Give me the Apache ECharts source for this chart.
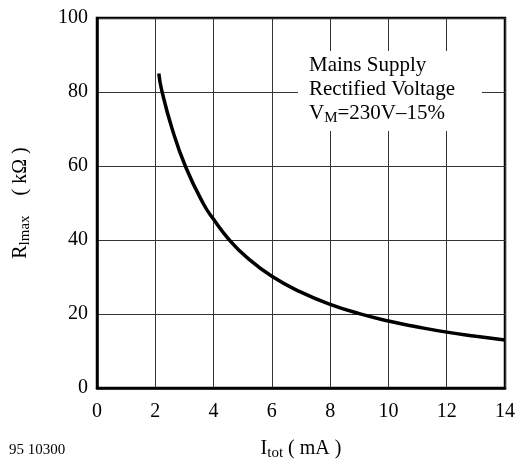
<!DOCTYPE html>
<html>
<head>
<meta charset="utf-8">
<script src="https://cdn.jsdelivr.net/npm/echarts@6/dist/echarts.min.js"></script>
<style>html,body{margin:0;padding:0;background:#fff}#c{width:518px;height:460px}</style>
</head>
<body>
<div id="c"></div>
<script>
var currentMA = [2.12, 2.22, 2.58, 3.04, 3.65, 4.0, 4.52, 5.14, 6.0, 7.0, 8.0, 9.0, 10.0, 11.0, 12.0, 13.0, 14.0];
var resistanceKOhm = [85.0, 80.5, 70.0, 59.8, 49.8, 45.6, 40.2, 35.3, 30.2, 25.9, 22.6, 20.1, 18.1, 16.5, 15.1, 14.0, 13.0];
var xTicks = [0, 2, 4, 6, 8, 10, 12, 14];
var yTicks = [0, 20, 40, 60, 80, 100];
var annotationLines = ['Mains Supply', 'Rectified Voltage'];
var figureId = '95 10300';

var font = 'Liberation Serif, Times New Roman, serif';
var chart = echarts.init(document.getElementById('c'));
var pts = currentMA.map(function (x, i) { return [x, resistanceKOhm[i]]; });

chart.setOption({
  animation: false,
  title: {
    text: figureId, left: 4, top: 438,
    textStyle: { fontFamily: font, fontSize: 15, fontWeight: 'normal', color: '#000' }
  },
  grid: { left: 97, right: 13, top: 18, bottom: 72, outerBoundsMode: 'none', containLabel: false, show: true, borderColor: '#000', borderWidth: 2.5, backgroundColor: 'transparent' },
  xAxis: {
    type: 'value', min: xTicks[0], max: xTicks[xTicks.length - 1], interval: 2,
    axisLine: { show: true, lineStyle: { color: '#000', width: 2.5 } },
    axisTick: { show: false },
    axisLabel: { fontFamily: font, fontSize: 20, color: '#000', margin: 14 },
    splitLine: { show: true, lineStyle: { color: '#333', width: 1 } },
    name: '{m|I}{s|tot}{m| ( mA )}',
    nameLocation: 'middle', nameGap: 49,
    nameTextStyle: {
      rich: {
        m: { fontFamily: font, fontSize: 20, color: '#000' },
        s: { fontFamily: font, fontSize: 15, color: '#000', padding: [9, 0, 0, 0] }
      }
    }
  },
  yAxis: {
    type: 'value', min: yTicks[0], max: yTicks[yTicks.length - 1], interval: 20,
    axisLine: { show: true, lineStyle: { color: '#000', width: 2.5 } },
    axisTick: { show: false },
    axisLabel: { fontFamily: font, fontSize: 20, color: '#000', margin: 9 },
    splitLine: { show: true, lineStyle: { color: '#333', width: 1 } },
    name: '{m|R}{s|lmax}{m|    ( k\u03A9 )}',
    nameLocation: 'middle', nameGap: 64, nameRotate: 90,
    nameTextStyle: {
      rich: {
        m: { fontFamily: font, fontSize: 20, color: '#000' },
        s: { fontFamily: font, fontSize: 15, color: '#000', padding: [9, 0, 0, 0] }
      }
    }
  },
  graphic: [{
    type: 'text', left: 298, top: 51, z: 100,
    style: {
      text: '{m|' + annotationLines[0] + '}\n{m|' + annotationLines[1] + '}\n{m|V}{s|M}{m|=230V\u201315%}',
      backgroundColor: '#fff',
      padding: [2, 27, 6, 11],
      rich: {
        m: { fontFamily: font, fontSize: 21, fill: '#000', lineHeight: 24 },
        s: { fontFamily: font, fontSize: 15, fill: '#000', lineHeight: 24, padding: [10, 0, 0, 0] }
      }
    }
  }],
  series: [{
    type: 'line', data: pts, smooth: 0.5, showSymbol: false,
    lineStyle: { color: '#000', width: 3.5 }
  }]
});
</script>
</body>
</html>
